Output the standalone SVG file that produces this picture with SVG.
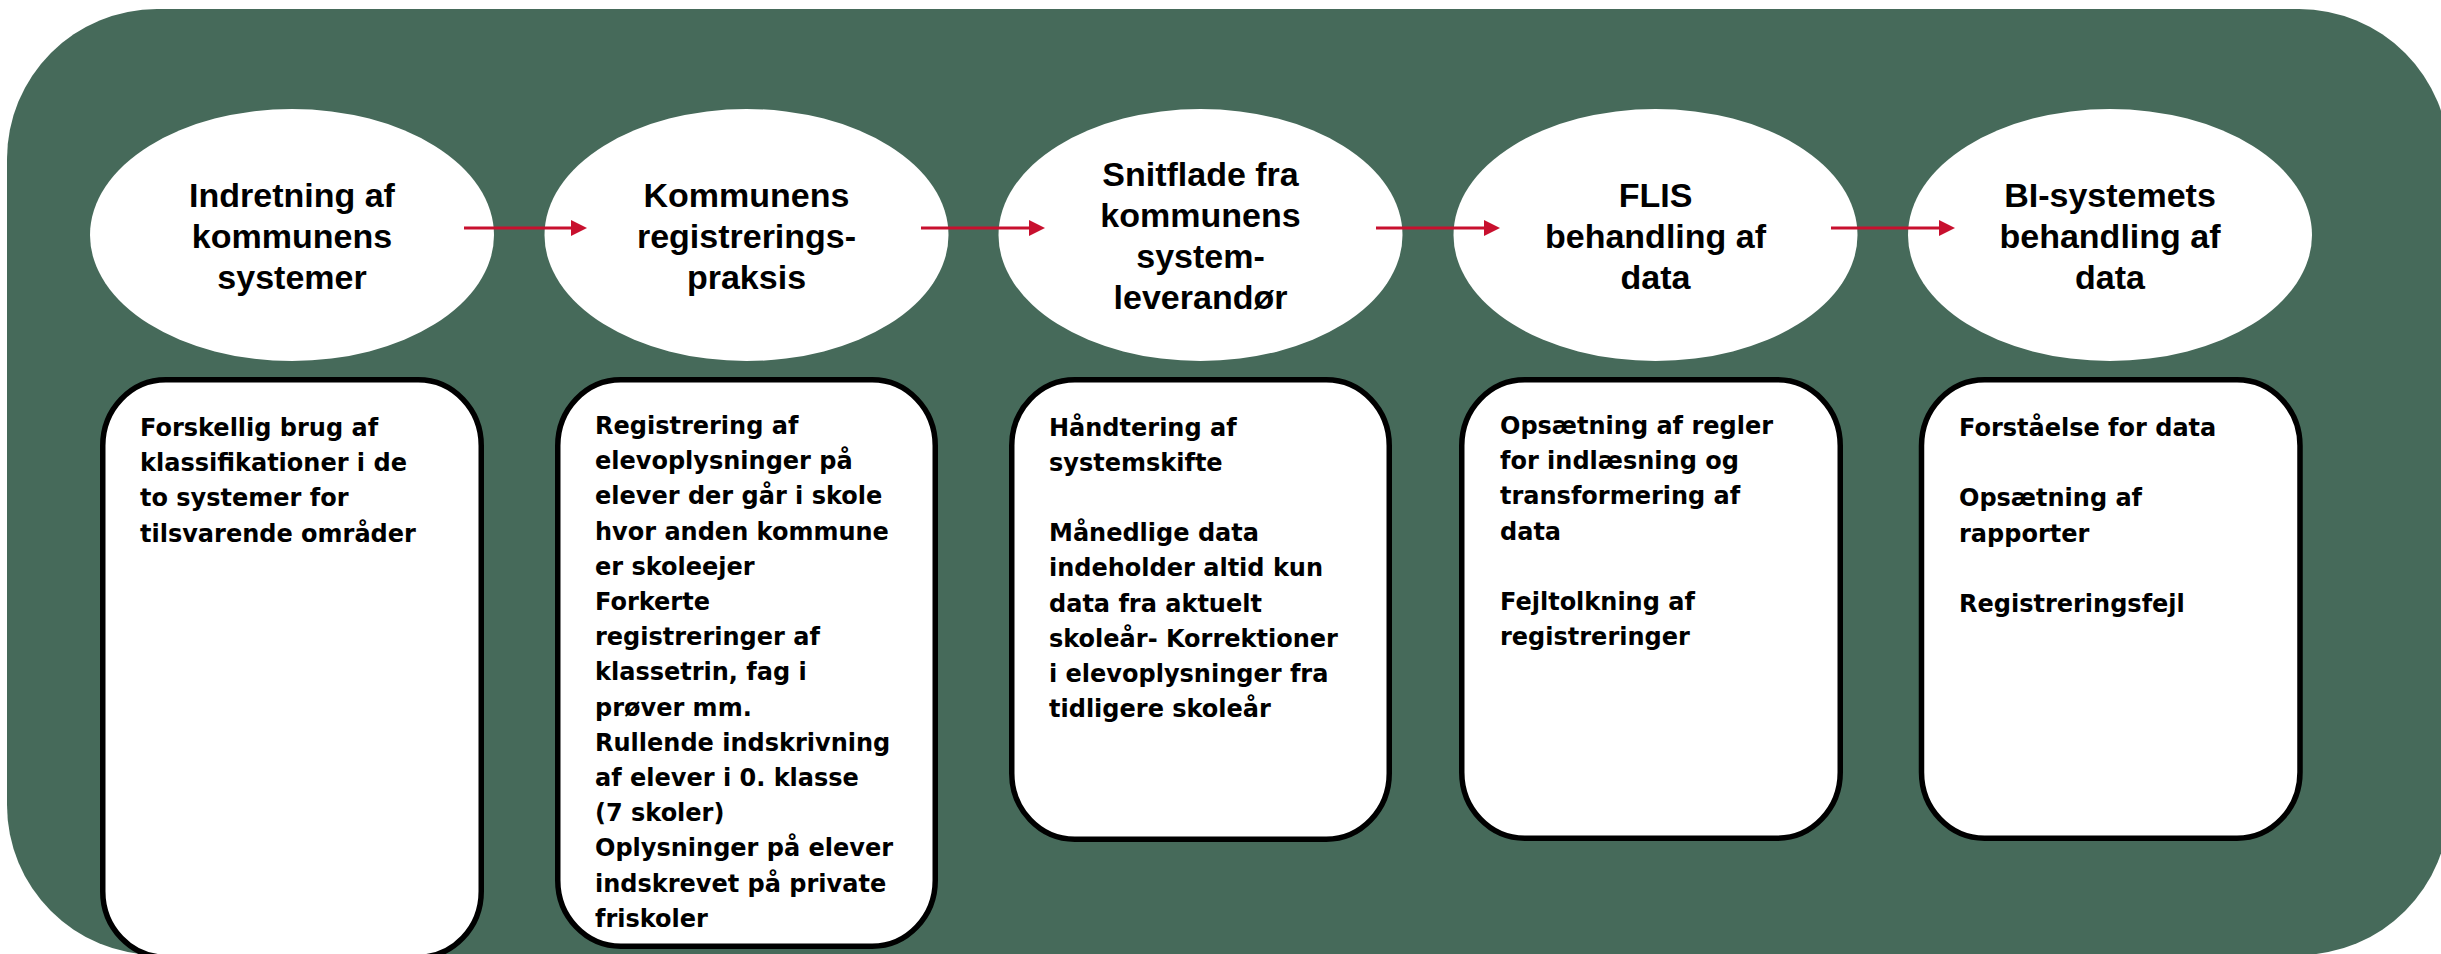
<svg xmlns="http://www.w3.org/2000/svg" width="2441" height="954" viewBox="0 0 2441 954">
<style>
.bg{fill:#466A5A}
.oval{fill:#FFFFFF}
.box{fill:#FFFFFF;stroke:#000000;stroke-width:5.5}
.ot{font-family:"Liberation Sans",Arial,sans-serif;font-weight:bold;font-size:34px;fill:#000;text-anchor:middle}
.bt{font-family:"DejaVu Sans",Verdana,sans-serif;font-weight:bold;font-size:24px;fill:#000}
.arr{stroke:#C8102E;stroke-width:3;fill:none;marker-end:url(#ah)}
</style>
<defs>
<marker id="ah" markerUnits="userSpaceOnUse" markerWidth="16" markerHeight="16" viewBox="0 0 16 16" refX="2" refY="8" orient="auto">
<path d="M0,0 L16,8 L0,16 Z" fill="#C8102E"/>
</marker>
</defs>
<rect class="bg" x="7" y="9" width="2442" height="946" rx="150" ry="150"/>

<g id="node1">
<ellipse class="oval" cx="292" cy="235" rx="202" ry="126"/>
<text class="ot" x="292" y="206.5"><tspan x="292">Indretning af</tspan><tspan x="292" dy="41.3">kommunens</tspan><tspan x="292" dy="41.3">systemer</tspan></text>
</g>
<g id="node2">
<ellipse class="oval" cx="746.5" cy="235" rx="202" ry="126"/>
<text class="ot" x="746.5" y="206.5"><tspan x="746.5">Kommunens</tspan><tspan x="746.5" dy="41.3">registrerings-</tspan><tspan x="746.5" dy="41.3">praksis</tspan></text>
</g>
<g id="node3">
<ellipse class="oval" cx="1200.5" cy="235" rx="202" ry="126"/>
<text class="ot" x="1200.5" y="185.5"><tspan x="1200.5">Snitflade fra</tspan><tspan x="1200.5" dy="41.3">kommunens</tspan><tspan x="1200.5" dy="41.3">system-</tspan><tspan x="1200.5" dy="41.3">leverandør</tspan></text>
</g>
<g id="node4">
<ellipse class="oval" cx="1655.5" cy="235" rx="202" ry="126"/>
<text class="ot" x="1655.5" y="206.5"><tspan x="1655.5">FLIS</tspan><tspan x="1655.5" dy="41.3">behandling af</tspan><tspan x="1655.5" dy="41.3">data</tspan></text>
</g>
<g id="node5">
<ellipse class="oval" cx="2110" cy="235" rx="202" ry="126"/>
<text class="ot" x="2110" y="206.5"><tspan x="2110">BI-systemets</tspan><tspan x="2110" dy="41.3">behandling af</tspan><tspan x="2110" dy="41.3">data</tspan></text>
</g>

<g id="connectors">
<line class="arr" x1="464" y1="228" x2="573" y2="228"/>
<line class="arr" x1="921" y1="228" x2="1031" y2="228"/>
<line class="arr" x1="1376" y1="228" x2="1486" y2="228"/>
<line class="arr" x1="1831" y1="228" x2="1941" y2="228"/>
</g>

<g id="box1">
<rect class="box" x="102.75" y="379.75" width="378.5" height="577.5" rx="63" ry="66"/>
<text class="bt" x="140" y="436"><tspan x="140">Forskellig brug af</tspan><tspan x="140" dy="35.2">klassifikationer i de</tspan><tspan x="140" dy="35.2">to systemer for</tspan><tspan x="140" dy="35.2">tilsvarende områder</tspan></text>
</g>
<g id="box2">
<rect class="box" x="557.75" y="379.75" width="377.5" height="566.5" rx="63" ry="66"/>
<text class="bt" x="595" y="434"><tspan x="595">Registrering af</tspan><tspan x="595" dy="35.2">elevoplysninger på</tspan><tspan x="595" dy="35.2">elever der går i skole</tspan><tspan x="595" dy="35.2">hvor anden kommune</tspan><tspan x="595" dy="35.2">er skoleejer</tspan><tspan x="595" dy="35.2">Forkerte</tspan><tspan x="595" dy="35.2">registreringer af</tspan><tspan x="595" dy="35.2">klassetrin, fag i</tspan><tspan x="595" dy="35.2">prøver mm.</tspan><tspan x="595" dy="35.2">Rullende indskrivning</tspan><tspan x="595" dy="35.2">af elever i 0. klasse</tspan><tspan x="595" dy="35.2">(7 skoler)</tspan><tspan x="595" dy="35.2">Oplysninger på elever</tspan><tspan x="595" dy="35.2">indskrevet på private</tspan><tspan x="595" dy="35.2">friskoler</tspan></text>
</g>
<g id="box3">
<rect class="box" x="1011.75" y="379.75" width="377.5" height="459.5" rx="63" ry="66"/>
<text class="bt" x="1049" y="435.5"><tspan x="1049">Håndtering af</tspan><tspan x="1049" dy="35.2">systemskifte</tspan><tspan x="1049" dy="70.4">Månedlige data</tspan><tspan x="1049" dy="35.2">indeholder altid kun</tspan><tspan x="1049" dy="35.2">data fra aktuelt</tspan><tspan x="1049" dy="35.2">skoleår- Korrektioner</tspan><tspan x="1049" dy="35.2">i elevoplysninger fra</tspan><tspan x="1049" dy="35.2">tidligere skoleår</tspan></text>
</g>
<g id="box4">
<rect class="box" x="1461.75" y="379.75" width="378.5" height="458.5" rx="63" ry="66"/>
<text class="bt" x="1500" y="434"><tspan x="1500">Opsætning af regler</tspan><tspan x="1500" dy="35.2">for indlæsning og</tspan><tspan x="1500" dy="35.2">transformering af</tspan><tspan x="1500" dy="35.2">data</tspan><tspan x="1500" dy="70.4">Fejltolkning af</tspan><tspan x="1500" dy="35.2">registreringer</tspan></text>
</g>
<g id="box5">
<rect class="box" x="1921.5" y="379.75" width="378.5" height="458.5" rx="63" ry="66"/>
<text class="bt" x="1959" y="436"><tspan x="1959">Forståelse for data</tspan><tspan x="1959" dy="70.4">Opsætning af</tspan><tspan x="1959" dy="35.2">rapporter</tspan><tspan x="1959" dy="70.4">Registreringsfejl</tspan></text>
</g>
</svg>
